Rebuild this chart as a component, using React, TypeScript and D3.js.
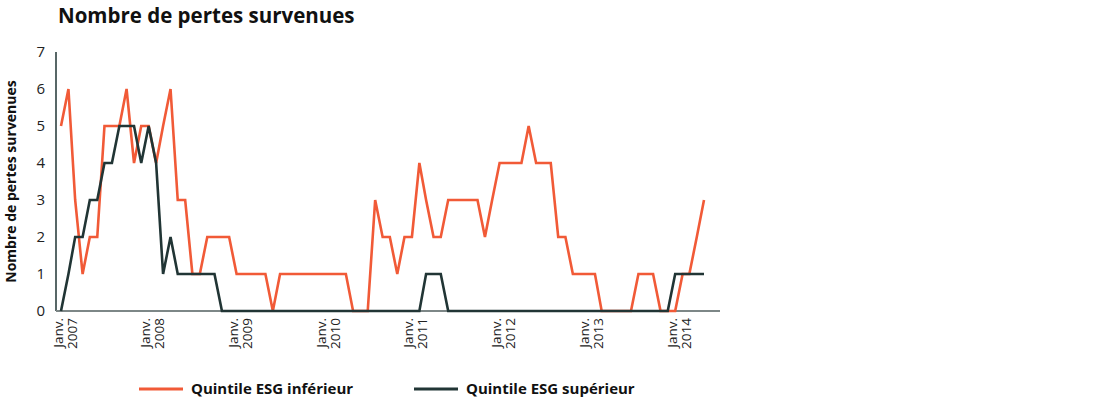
import * as d3 from 'd3';
import React, { useEffect, useRef } from 'react';

// monthly series, Jan 2007 -> May 2014
const startYear = 2007;
const quintileInferieur = [
  5, 6, 3, 1, 2, 2, 5, 5, 5, 6, 4, 5,
  5, 4, 5, 6, 3, 3, 1, 1, 2, 2, 2, 2,
  1, 1, 1, 1, 1, 0, 1, 1, 1, 1, 1, 1,
  1, 1, 1, 1, 0, 0, 0, 3, 2, 2, 1, 2,
  2, 4, 3, 2, 2, 3, 3, 3, 3, 3, 2, 3,
  4, 4, 4, 4, 5, 4, 4, 4, 2, 2, 1, 1,
  1, 1, 0, 0, 0, 0, 0, 1, 1, 1, 0, 0,
  0, 1, 1, 2, 3,
];
const quintileSuperieur = [
  0, 1, 2, 2, 3, 3, 4, 4, 5, 5, 5, 4,
  5, 4, 1, 2, 1, 1, 1, 1, 1, 1, 0, 0,
  0, 0, 0, 0, 0, 0, 0, 0, 0, 0, 0, 0,
  0, 0, 0, 0, 0, 0, 0, 0, 0, 0, 0, 0,
  0, 0, 1, 1, 1, 0, 0, 0, 0, 0, 0, 0,
  0, 0, 0, 0, 0, 0, 0, 0, 0, 0, 0, 0,
  0, 0, 0, 0, 0, 0, 0, 0, 0, 0, 0, 0,
  1, 1, 1, 1, 1,
];
const yearTicks = [2007, 2008, 2009, 2010, 2011, 2012, 2013, 2014];
const yTicks = [0, 1, 2, 3, 4, 5, 6, 7];
const seriesNames = ['Quintile ESG inférieur', 'Quintile ESG supérieur'];

const ORANGE = '#f15a37';
const DARK = '#213535';
const FONT = '"Open Sans", Lato, sans-serif';

export default function App() {
  const ref = useRef<SVGSVGElement>(null);

  useEffect(() => {
    drawChart();
  }, []);

  function drawChart() {
    const svg = d3.select(ref.current);
    svg.selectAll('*').remove();

    const dates = quintileInferieur.map((_, i) => new Date(startYear, i, 1));

    const x = d3
      .scaleTime()
      .domain([dates[0], dates[dates.length - 1]])
      .range([61, 704]);
    const y = d3.scaleLinear().domain([0, 7]).range([311, 52]);

    // title
    svg
      .append('text')
      .attr('x', 58)
      .attr('y', 23)
      .attr('font-family', FONT)
      .attr('font-weight', 700)
      .attr('font-size', 20.5)
      .attr('fill', '#111')
      .text('Nombre de pertes survenues');

    // y axis title
    svg
      .append('text')
      .attr('transform', `translate(16,${y(3.5)}) rotate(-90)`)
      .attr('text-anchor', 'middle')
      .attr('font-family', FONT)
      .attr('font-weight', 700)
      .attr('font-size', 14)
      .attr('fill', '#111')
      .text('Nombre de pertes survenues');

    // y axis
    const yAxis = svg
      .append('g')
      .attr('transform', 'translate(56,0)')
      .call(d3.axisLeft(y).tickValues(yTicks).tickSize(0).tickPadding(11).tickFormat(d3.format('d')));
    yAxis.select('.domain').attr('stroke', DARK).attr('stroke-width', 1.5).attr('d', `M0,${y(7)}V${y(0)}`);
    yAxis
      .selectAll('text')
      .attr('font-family', FONT)
      .attr('font-size', 15)
      .attr('fill', '#222');

    // x axis line
    svg
      .append('line')
      .attr('x1', 56)
      .attr('x2', 720)
      .attr('y1', y(0))
      .attr('y2', y(0))
      .attr('stroke', '#7d8787')
      .attr('stroke-width', 2);

    // x tick labels
    const xl = svg
      .selectAll('.xlab')
      .data(yearTicks)
      .enter()
      .append('text')
      .attr('class', 'xlab')
      .attr('transform', (d) => `translate(${x(new Date(d, 0, 1))},318) rotate(-90)`)
      .attr('text-anchor', 'end')
      .attr('font-family', FONT)
      .attr('font-size', 13.5)
      .attr('fill', '#222');
    xl.append('tspan').attr('x', 0).attr('y', 1.5).text('Janv.');
    xl.append('tspan').attr('x', 0).attr('y', 15.5).text((d) => String(d));

    const line = d3
      .line<number>()
      .x((_, i) => x(dates[i]))
      .y((d) => y(d));

    svg
      .append('path')
      .datum(quintileInferieur)
      .attr('fill', 'none')
      .attr('stroke', ORANGE)
      .attr('stroke-width', 2.6)
      .attr('d', line);

    svg
      .append('path')
      .datum(quintileSuperieur)
      .attr('fill', 'none')
      .attr('stroke', DARK)
      .attr('stroke-width', 2.6)
      .attr('d', line);

    // legend
    const legend = svg
      .selectAll('.leg')
      .data(seriesNames)
      .enter()
      .append('g')
      .attr('class', 'leg')
      .attr('transform', (_, i) => `translate(${i === 0 ? 139 : 414},389)`);
    legend
      .append('line')
      .attr('x1', 0)
      .attr('x2', 44)
      .attr('stroke', (_, i) => (i === 0 ? ORANGE : DARK))
      .attr('stroke-width', 3);
    legend
      .append('text')
      .attr('x', 52)
      .attr('y', 5)
      .attr('font-family', FONT)
      .attr('font-weight', 700)
      .attr('font-size', 15)
      .attr('fill', '#111')
      .text((d) => d);
  }

  return (
    <>
      <style>{'body{margin:0}'}</style>
      <svg ref={ref} width={1120} height={400} style={{ display: 'block' }} />
    </>
  );
}
